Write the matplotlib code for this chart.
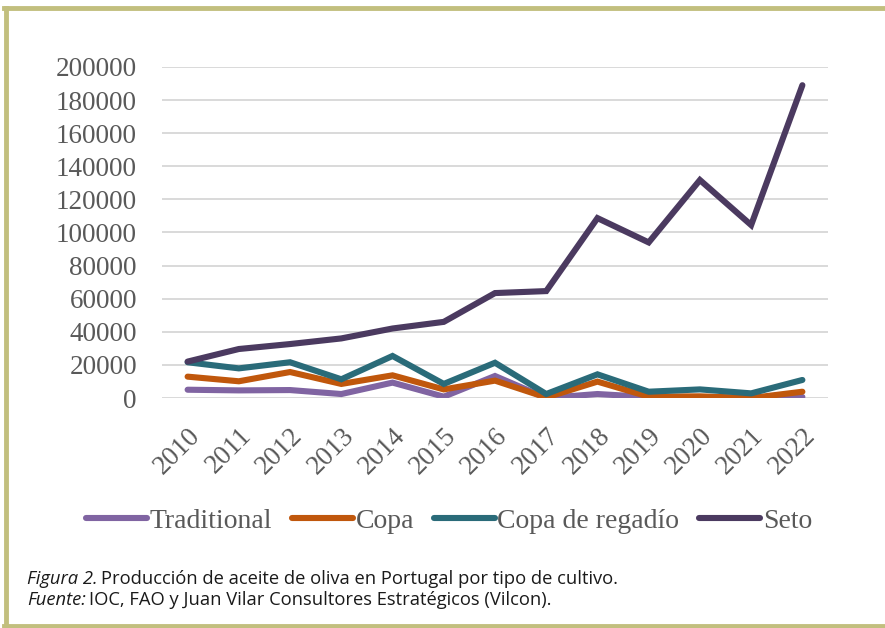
import matplotlib
matplotlib.use('Agg')
import matplotlib.pyplot as plt
from matplotlib.lines import Line2D

years = ['2010', '2011', '2012', '2013', '2014', '2015', '2016',
         '2017', '2018', '2019', '2020', '2021', '2022']
traditional = [5000, 4600, 4800, 2400, 9300, 800, 13300, 0, 2400, 600, 600, 0, 600]
copa = [12900, 10100, 15700, 8500, 13700, 5200, 10500, 300, 9900, 800, 1000, 0, 3800]
copa_regadio = [21600, 17900, 21600, 11300, 25400, 8500, 21300, 2400, 14300, 3800, 5200, 2800, 10900]
seto = [22000, 29600, 32600, 36000, 42000, 46000, 63400, 64600, 108700, 94000, 131700, 104500, 189000]

series = [
    ('Traditional', traditional, '#8064a2'),
    ('Copa', copa, '#c0570c'),
    ('Copa de regadío', copa_regadio, '#2a6b79'),
    ('Seto', seto, '#4b3a60'),
]
yticks = list(range(0, 200001, 20000))

W, H = 885, 628
fig = plt.figure(figsize=(W / 100, H / 100), dpi=100)
ax = fig.add_axes([162 / W, 1 - 398 / H, (828 - 162) / W, (398 - 67) / H])

serif = 'Liberation Serif'
txt_col = '#595959'

x = list(range(len(years)))
for name, vals, col in series:
    ax.plot(x, vals, color=col, lw=4.4, solid_capstyle='round',
            solid_joinstyle='miter', label=name, zorder=3)

ax.set_xlim(-0.5, len(years) - 0.5)
ax.set_ylim(0, 200000)
ax.set_yticks(yticks)
ax.set_yticklabels([str(v) for v in yticks], fontsize=19.5, family=serif, color=txt_col)
ax.set_xticks(x)
ax.set_xticklabels(years, fontsize=19.5, family=serif, color=txt_col,
                   rotation=45, ha='right', va='top', rotation_mode='anchor')
ax.tick_params(axis='y', length=0, pad=18)
ax.tick_params(axis='x', length=0, pad=18)
ax.grid(axis='y', color='#d9d9d9', lw=1.4, zorder=0)
for s in ax.spines.values():
    s.set_visible(False)

handles = [Line2D([], [], color=c, lw=4.4, solid_capstyle='round') for _, _, c in series]
leg = fig.legend(handles, [n for n, _, _ in series], loc='center',
                 bbox_to_anchor=(449 / W, 1 - 521 / H), ncol=4, frameon=False,
                 prop={'family': serif, 'size': 20}, handlelength=2.2,
                 handletextpad=0.1, columnspacing=0.7)
for t in leg.get_texts():
    t.set_color(txt_col)

# pie de figura: parte en cursiva + parte normal
cap = 'Open Sans'
renderer = fig.canvas.get_renderer()
def caption(y, italic, rest):
    t = fig.text(27 / W, 1 - y / H, italic, fontsize=13.2, family=cap,
                 style='italic', color='#1a1a1a', va='baseline')
    bb = t.get_window_extent(renderer)
    fig.text(bb.x1 / W + 3 / W, 1 - y / H, rest, fontsize=13.2, family=cap,
             color='#1a1a1a', va='baseline')

caption(584, 'Figura 2.', 'Producción de aceite de oliva en Portugal por tipo de cultivo.')
caption(605, 'Fuente:', 'IOC, FAO y Juan Vilar Consultores Estratégicos (Vilcon).')

# marco
frame = '#c2bf7e'
fig.add_artist(Line2D([6 / W, 6 / W], [1 - 8 / H, 1 - 626 / H], color=frame, lw=3.5,
                      transform=fig.transFigure))
fig.add_artist(Line2D([4 / W, 1], [1 - 8 / H, 1 - 8 / H], color=frame, lw=3.5,
                      transform=fig.transFigure))
fig.add_artist(Line2D([4 / W, 1], [1 - 626 / H, 1 - 626 / H], color=frame, lw=3.5,
                      transform=fig.transFigure))

fig.savefig('out.png', dpi=100)
